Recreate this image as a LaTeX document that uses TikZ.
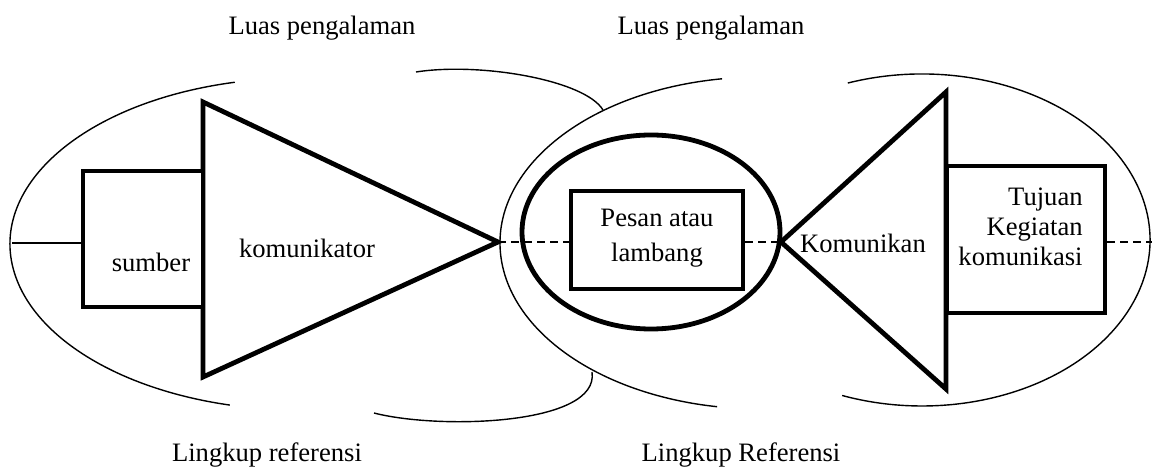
\documentclass[tikz,border=0pt]{standalone}
\usepackage{fontspec}
\setmainfont{Liberation Serif}
\usetikzlibrary{calc}
\tikzset{
  thin line/.style={line width=0.7pt},
  thick line/.style={line width=2.4pt, line join=miter},
  dash line/.style={line width=1.3pt, dash pattern=on 4pt off 2.5pt},
  box/.style={draw, thick line, fill=white, inner sep=0pt},
  txt/.style={inner sep=0pt, font=\fontsize{13.3}{15}\selectfont},
}
\begin{document}
\begin{tikzpicture}[x=0.5pt,y=-0.5pt]
\useasboundingbox (0,0) rectangle (1152,470);

% thin outlines (Luas pengalaman / Lingkup referensi)
\draw[thin line] ([shift={(103:145pt and 83pt)}]300,244) arc[start angle=103, end angle=256, x radius=145pt, y radius=83pt];
\draw[thin line] (416,72) .. controls (480,62) and (585,80) .. (603,110);
\draw[thin line] (374,413) .. controls (440,430) and (600,425) .. (592,372);
\draw[thin line] ([shift={(98.4:130pt and 83pt)}]760,243) arc[start angle=98.4, end angle=260.5, x radius=130pt, y radius=83pt];
\draw[thin line] ([shift={(109:114pt and 83pt)}]922,240) arc[start angle=109, end angle=-110.5, x radius=114pt, y radius=83pt];

% left triangle (komunikator)
\coordinate (LT1) at (203,102);
\coordinate (LT2) at (203,377);
\coordinate (LA) at (498,242);
\draw[thick line, fill=white] (LT1) -- (LA) -- (LT2) -- cycle;

% right triangle (komunikan)
\coordinate (RT1) at (946,92);
\coordinate (RT2) at (946,389);
\coordinate (RA) at (781,242);
\draw[thick line, fill=white] (RT1) -- (RA) -- (RT2) -- cycle;

% boxes
\node[box, minimum width=60pt, minimum height=68pt] (sumber) at (143,239) {};
\node[box, minimum width=79pt, minimum height=73.5pt] (tujuan) at (1026,239.5) {};

% middle thick ellipse and message box
\draw[thick line] (651,232) ellipse[x radius=64.5pt, y radius=48.5pt];
\node[box, minimum width=86pt, minimum height=49pt] (pesan) at (657,240) {};

% connectors
\coordinate (L0) at (12,243);
\coordinate (R0) at (1152,242);
\draw[thin line] (L0) -- (sumber.west |- L0);
\draw[dash line] (LA) -- (pesan.west |- LA);
\draw[dash line] (pesan.east |- RA) -- (RA);
\draw[dash line] (tujuan.east |- R0) -- (R0);

% texts
\node[txt] (t1) at (151,262) {sumber};
\node[txt] (t2) at (307,248) {komunikator};
\node[txt, align=center, font=\fontsize{13.3}{17.5}\selectfont] (t3) at (657,238) {Pesan atau\\lambang};
\node[txt] (t4) at (863,243) {Komunikan};
\node[txt, align=right, anchor=east] (t5) at (1083,227) {Tujuan\\Kegiatan\\komunikasi};

\node[txt] (l1) at (322,28) {Luas pengalaman};
\node[txt] (l2) at (711,28) {Luas pengalaman};
\node[txt] (l3) at (267,455) {Lingkup referensi};
\node[txt] (l4) at (741,455) {Lingkup Referensi};
\end{tikzpicture}
\end{document}
